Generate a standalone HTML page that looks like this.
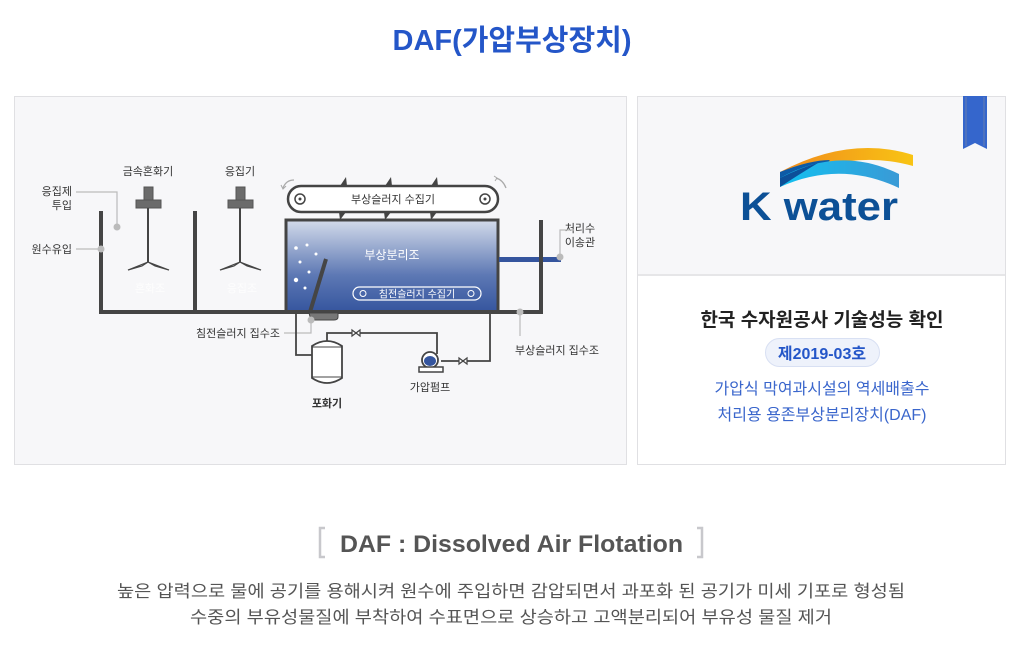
<!DOCTYPE html>
<html><head><meta charset="utf-8">
<style>
html,body{margin:0;padding:0;background:#fff;width:1024px;height:662px;overflow:hidden}
svg text{font-family:"Liberation Sans","Noto Sans CJK KR",sans-serif}
</style></head><body>
<svg width="1024" height="662" viewBox="0 0 1024 662" xmlns="http://www.w3.org/2000/svg">
<defs>
<linearGradient id="tg" x1="0" y1="0" x2="0" y2="1">
<stop offset="0" stop-color="#d3dbea"/><stop offset="0.6" stop-color="#5d78b4"/><stop offset="1" stop-color="#35559e"/>
</linearGradient>
<linearGradient id="og" x1="0" x2="1"><stop offset="0" stop-color="#f08a1c"/><stop offset="1" stop-color="#f8c414"/></linearGradient>
<linearGradient id="bg2" x1="0" x2="1"><stop offset="0" stop-color="#12c0f0"/><stop offset="1" stop-color="#3a9ad6"/></linearGradient>
</defs>
<text x="512" y="50" text-anchor="middle" font-size="29" font-weight="bold" fill="#2456c8">DAF(가압부상장치)</text>

<rect x="14.5" y="96.5" width="612" height="368" fill="#f7f7f9" stroke="#e0e0e3"/>
<rect x="637.5" y="96.5" width="368" height="368" fill="#fff" stroke="#e0e0e3"/>
<rect x="638" y="97" width="367" height="177" fill="#f7f7f9"/>
<line x1="638" y1="275" x2="1005" y2="275" stroke="#e6e6e8" stroke-width="2"/>

<path d="M963 96 H987 V149 L975 143 L963 149 Z" fill="#3566cc"/>
<line x1="966" y1="97" x2="966" y2="146" stroke="#8a8fa0" stroke-width="0.6"/>
<line x1="984" y1="97" x2="984" y2="146" stroke="#8a8fa0" stroke-width="0.6"/>

<path d="M780 172 Q850 135 913 155 L913 166 Q850 148 780 183 Z" fill="url(#og)"/>
<path d="M780 172 Q810 160 830 160 L828 162 Q800 168 780 183 Z" fill="#0d5aa6"/>
<path d="M780 178 Q840 145 899 174 L899 188 Q840 160 780 187 Z" fill="url(#bg2)"/>
<path d="M780 178 Q800 168 818 163 Q798 175 780 187 Z" fill="#0d4f98"/>
<text x="740" y="220" font-size="40" font-weight="bold" fill="#0c5096" textLength="158" lengthAdjust="spacingAndGlyphs">K water</text>

<text x="822" y="326" text-anchor="middle" font-size="19" font-weight="bold" fill="#222">한국 수자원공사 기술성능 확인</text>
<rect x="765.5" y="338.5" width="114" height="28" rx="14" fill="#eef2fb" stroke="#d8e0f3"/>
<text x="822" y="359" text-anchor="middle" font-size="16" font-weight="bold" fill="#2456c8">제2019-03호</text>
<text x="822" y="394" text-anchor="middle" font-size="16" fill="#3a66cc">가압식 막여과시설의 역세배출수</text>
<text x="822" y="420" text-anchor="middle" font-size="16" fill="#3a66cc">처리용 용존부상분리장치(DAF)</text>

<g font-size="11" fill="#333">
<text x="148" y="175" text-anchor="middle">금속혼화기</text>
<text x="240" y="175" text-anchor="middle">응집기</text>
<text x="72" y="195" text-anchor="end">응집제</text>
<text x="72" y="209" text-anchor="end">투입</text>
<text x="72" y="253" text-anchor="end">원수유입</text>
<text x="280" y="337" text-anchor="end">침전슬러지 집수조</text>
<text x="557" y="354" text-anchor="middle">부상슬러지 집수조</text>
<text x="580" y="232" text-anchor="middle">처리수</text>
<text x="580" y="246" text-anchor="middle">이송관</text>
<text x="327" y="407" text-anchor="middle" font-weight="bold">포화기</text>
<text x="430" y="391" text-anchor="middle">가압펌프</text>
</g>
<g stroke="#bbb" stroke-width="1.2" fill="none">
<polyline points="76,192 117,192 117,227"/>
<line x1="76" y1="249" x2="101" y2="249"/>
<polyline points="284,333 311,333 311,320"/>
<polyline points="520,312 520,336"/>
<polyline points="560,257 560,230 574,230"/>
</g>

<rect x="286" y="220" width="212" height="92" fill="url(#tg)" stroke="#444" stroke-width="3"/>
<g stroke="#454545" stroke-width="4" fill="none">
<polyline points="101,211 101,312 541,312"/>
<line x1="195" y1="211" x2="195" y2="312"/>
<line x1="541" y1="220" x2="541" y2="314"/>
<line x1="326" y1="259" x2="310" y2="312"/>
</g>
<rect x="499" y="257" width="62" height="5" fill="#35559e"/>
<line x1="541" y1="255" x2="541" y2="264" stroke="#454545" stroke-width="4"/>
<path d="M309 313 H338 V317 Q338 320 334 320 H311 Z" fill="#777" stroke="#444"/>
<g fill="#bbb"><circle cx="117" cy="227" r="3.5"/><circle cx="101" cy="249" r="3.5"/><circle cx="311" cy="320" r="3.5"/><circle cx="520" cy="312" r="3.5"/><circle cx="560" cy="257" r="3.5"/></g>

<g fill="#6b6b6b" stroke="#555">
<rect x="144" y="187" width="9" height="13"/><rect x="136" y="200" width="25" height="8"/>
<rect x="236" y="187" width="9" height="13"/><rect x="228" y="200" width="25" height="8"/>
</g>
<g stroke="#444" stroke-width="2" fill="none">
<line x1="148" y1="208" x2="148" y2="262"/><line x1="240" y1="208" x2="240" y2="262"/>
</g>
<g stroke="#444" stroke-width="1.2" fill="#fff">
<path d="M148 262 L128 270 L142 266 Z"/><path d="M148 262 L169 270 L155 266 Z"/>
<path d="M240 262 L220 270 L234 266 Z"/><path d="M240 262 L261 270 L247 266 Z"/>
</g>
<text x="150" y="292" text-anchor="middle" font-size="11" fill="#fff" opacity="0.8">혼화조</text>
<text x="242" y="292" text-anchor="middle" font-size="11" fill="#fff" opacity="0.8">응집조</text>

<g fill="#444">
<path d="M340 186 L346 177 L347 186 Z"/><path d="M385 186 L391 177 L392 186 Z"/><path d="M431 186 L437 177 L438 186 Z"/>
<path d="M339 212 L346 212 L340 220 Z"/><path d="M384 212 L391 212 L385 220 Z"/><path d="M430 212 L437 212 L431 220 Z"/>
</g>
<rect x="288" y="186" width="210" height="26" rx="13" fill="#fff" stroke="#444" stroke-width="2.5"/>
<circle cx="300" cy="199" r="5" fill="none" stroke="#444" stroke-width="1.5"/><circle cx="300" cy="199" r="1.5" fill="#444"/>
<circle cx="485" cy="199" r="5" fill="none" stroke="#444" stroke-width="1.5"/><circle cx="485" cy="199" r="1.5" fill="#444"/>
<text x="393" y="203" text-anchor="middle" font-size="11" fill="#333">부상슬러지 수집기</text>
<path d="M294 180 Q286 180 283 188" stroke="#aaa" stroke-width="1.3" fill="none"/><path d="M281 185 L283 189 L286 186" stroke="#aaa" fill="none"/>
<path d="M496 178 Q503 180 506 188" stroke="#aaa" stroke-width="1.3" fill="none"/><path d="M494 176 L497 178 L495 181" stroke="#aaa" fill="none"/>

<text x="392" y="259" text-anchor="middle" font-size="12" fill="#fff">부상분리조</text>
<g fill="#fff"><circle cx="296" cy="248" r="1.8"/><circle cx="307" cy="245" r="1.5"/><circle cx="316" cy="254" r="1.5"/><circle cx="300" cy="262" r="1.5"/><circle cx="309" cy="272" r="1.5"/><circle cx="296" cy="280" r="2.2"/><circle cx="305" cy="288" r="1.5"/></g>
<rect x="353" y="287" width="128" height="13" rx="6.5" fill="none" stroke="#fff" stroke-width="1.2"/>
<circle cx="363" cy="293.5" r="3" fill="none" stroke="#fff"/><circle cx="471" cy="293.5" r="3" fill="none" stroke="#fff"/>
<text x="417" y="297.5" text-anchor="middle" font-size="10" fill="#fff">침전슬러지 수집기</text>

<g stroke="#444" stroke-width="1.8" fill="none">
<polyline points="296,313 296,355 313,355"/>
<polyline points="327,342 327,333 437,333 437,354"/>
<polyline points="441,361 490,361 490,313"/>
</g>
<path d="M312 346 Q327 336 342 346 V378 Q327 388 312 378 Z" fill="#fff" stroke="#444" stroke-width="1.8"/>
<line x1="312" y1="347" x2="342" y2="347" stroke="#444"/><line x1="312" y1="377" x2="342" y2="377" stroke="#444"/>
<g stroke="#444" stroke-width="1.2" fill="#fff">
<path d="M352 330 L360 336 L360 330 L352 336 Z"/>
<path d="M459 358 L467 364 L467 358 L459 364 Z"/>
</g>
<circle cx="430" cy="360" r="8" fill="#fff" stroke="#444" stroke-width="1.8"/>
<ellipse cx="430" cy="361" rx="6" ry="5" fill="#35559e"/>
<rect x="419" y="367" width="24" height="5" fill="#fff" stroke="#444" stroke-width="1.5"/>

<path d="M325 528 H320 V557 H325" stroke="#c8c8cc" stroke-width="2.5" fill="none"/>
<path d="M697 528 H702 V557 H697" stroke="#c8c8cc" stroke-width="2.5" fill="none"/>
<text x="340" y="552" font-size="24" font-weight="bold" fill="#555" textLength="343" lengthAdjust="spacingAndGlyphs">DAF : Dissolved Air Flotation</text>
<text x="117" y="597" font-size="17" fill="#555" textLength="788" lengthAdjust="spacingAndGlyphs">높은 압력으로 물에 공기를 용해시켜 원수에 주입하면 감압되면서 과포화 된 공기가 미세 기포로 형성됨</text>
<text x="190" y="623" font-size="17" fill="#555" textLength="642" lengthAdjust="spacingAndGlyphs">수중의 부유성물질에 부착하여 수표면으로 상승하고 고액분리되어 부유성 물질 제거</text>
</svg>
</body></html>
